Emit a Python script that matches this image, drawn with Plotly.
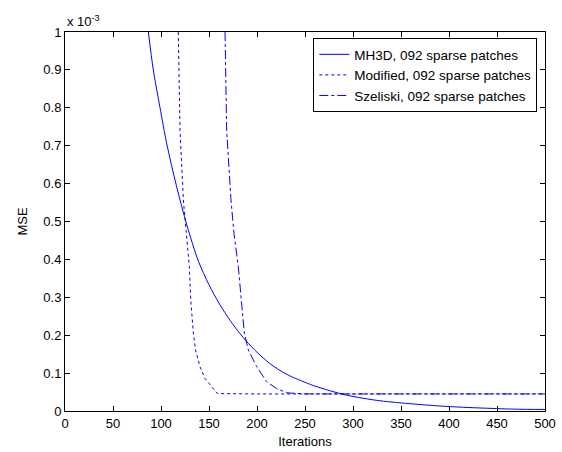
import plotly.graph_objects as go

# MSE values in units of 1e-3
mh3d_x = [86.8, 92, 99, 106, 116, 127, 139, 150, 161, 172, 182, 189, 200, 213, 224, 234, 259, 293, 328, 363, 398, 432, 467, 500]
mh3d_y = [1.0, 0.9, 0.8, 0.705, 0.595, 0.49, 0.395, 0.333, 0.282, 0.239, 0.205, 0.184, 0.155, 0.126, 0.107, 0.093, 0.067, 0.042, 0.027, 0.0185, 0.012, 0.008, 0.005, 0.004]

mod_x = [118, 119.8, 123.3, 126.7, 129.5, 131, 133.7, 136, 140.6, 145.8, 152.8, 158.7, 200, 300, 400, 500]
mod_y = [1.0, 0.741, 0.557, 0.469, 0.381, 0.293, 0.205, 0.161, 0.117, 0.086, 0.0628, 0.046, 0.045, 0.045, 0.045, 0.045]

sze_x = [166.7, 168.4, 172.9, 176, 180.5, 183.3, 186.8, 191, 199.7, 210, 220.5, 231, 250, 300, 400, 500]
sze_y = [1.0, 0.741, 0.557, 0.469, 0.381, 0.293, 0.205, 0.161, 0.117, 0.0775, 0.0592, 0.048, 0.045, 0.045, 0.045, 0.045]

x_ticks = [0, 50, 100, 150, 200, 250, 300, 350, 400, 450, 500]
y_ticks = [0, 0.1, 0.2, 0.3, 0.4, 0.5, 0.6, 0.7, 0.8, 0.9, 1]
y_tick_labels = ["0", "0.1", "0.2", "0.3", "0.4", "0.5", "0.6", "0.7", "0.8", "0.9", "1"]

names = ["MH3D, 092 sparse patches", "Modified, 092 sparse patches", "Szeliski, 092 sparse patches"]

fig = go.Figure()
fig.add_trace(go.Scatter(x=mh3d_x, y=mh3d_y, mode="lines", name=names[0],
                         line=dict(color="#0000ff", width=1, dash="solid", shape="spline", smoothing=0.8)))
fig.add_trace(go.Scatter(x=mod_x, y=mod_y, mode="lines", name=names[1],
                         line=dict(color="#0000ff", width=1, dash="dot")))
fig.add_trace(go.Scatter(x=sze_x, y=sze_y, mode="lines", name=names[2],
                         line=dict(color="#0000ff", width=1, dash="dashdot")))

font = "Liberation Sans, Arial, sans-serif"
axis_common = dict(showgrid=False, zeroline=False, showline=True, linecolor="black",
                   linewidth=1, mirror="ticks", ticks="inside", ticklen=5, automargin=False,
                   tickcolor="black", tickfont=dict(family=font, size=13, color="black"))

fig.update_layout(
    width=562, height=452,
    margin=dict(l=65, r=17, t=32, b=41),
    paper_bgcolor="white", plot_bgcolor="white",
    font=dict(family=font, size=13, color="black"),
    xaxis=dict(range=[0, 500], tickvals=x_ticks,
               title=dict(text="Iterations", font=dict(size=13), standoff=7), **axis_common),
    yaxis=dict(range=[0, 1], tickvals=y_ticks, ticktext=y_tick_labels,
               title=dict(text="MSE", font=dict(size=13), standoff=12), **axis_common),
    legend=dict(x=0.984, y=0.984, xanchor="right", yanchor="top",
                bgcolor="white", bordercolor="black", borderwidth=1,
                font=dict(family=font, size=13.5), tracegroupgap=0, itemwidth=30),
    showlegend=True,
    annotations=[dict(text="x 10<sup>-3</sup>", x=0, y=1, xref="paper", yref="paper",
                      xanchor="left", yanchor="bottom", showarrow=False, yshift=1,
                      font=dict(family=font, size=13, color="black"))],
)

fig.write_html("out.html")
